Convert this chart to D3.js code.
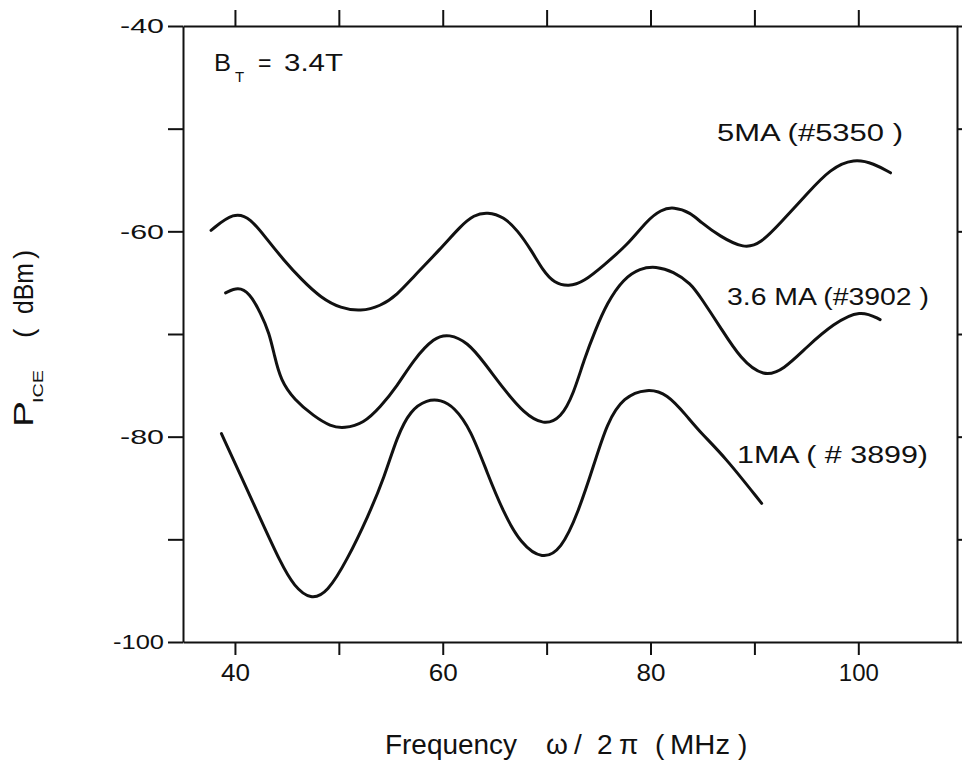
<!DOCTYPE html>
<html><head><meta charset="utf-8">
<script src="https://cdn.jsdelivr.net/npm/d3@7"></script>
<style>
body{margin:0;background:#fff}
svg{display:block}
text{font-family:"Liberation Sans",Arial,Helvetica,sans-serif;fill:#111}
</style>
</head><body>
<svg id="chart" width="962" height="770"></svg>
<script>
// ---------- data (frequency MHz, P_ICE dBm) ----------
const series5MA = [
  [37.7,-59.9],[39.9,-58.1],[41.5,-58.7],[43.1,-60.8],[44.7,-62.8],[46.4,-64.7],
  [48.3,-66.5],[50.2,-67.5],[52.1,-67.8],[54.0,-67.3],[55.6,-66.2],[57.2,-64.4],
  [59.8,-61.7],[61.7,-59.5],[63.0,-58.4],[64.3,-58.1],[65.9,-58.6],[67.2,-59.9],
  [68.5,-61.8],[69.7,-63.9],[70.7,-65.0],[72.1,-65.4],[73.6,-64.9],[75.5,-63.3],
  [77.8,-61.3],[79.7,-58.9],[81.0,-57.9],[82.2,-57.6],[83.9,-58.2],[84.8,-59.1],
  [86.7,-60.5],[89.0,-61.7],[90.6,-61.2],[92.5,-59.2],[95.1,-56.3],[97.3,-53.9],
  [99.6,-52.9],[101.5,-53.4],[103.1,-54.3]
];
const series36MA = [
  [39.1,-66.0],[40.3,-65.4],[41.4,-66.0],[42.5,-68.0],[43.3,-69.9],[43.8,-72.1],
  [44.4,-74.5],[45.7,-76.4],[47.6,-78.0],[49.2,-79.0],[50.5,-79.2],[52.4,-78.7],
  [54.0,-77.1],[55.6,-75.1],[57.2,-72.5],[59.2,-70.3],[60.6,-70.0],[62.4,-70.8],
  [64.0,-72.8],[65.9,-75.4],[67.8,-77.7],[69.7,-78.9],[71.4,-78.2],[72.6,-75.8],
  [73.6,-72.5],[74.7,-69.6],[75.8,-67.0],[77.4,-64.6],[79.0,-63.6],[80.5,-63.4],
  [82.2,-63.9],[83.9,-65.1],[84.8,-66.4],[86.7,-69.3],[88.7,-72.5],[90.9,-74.2],
  [92.8,-73.5],[95.1,-71.2],[97.6,-69.0],[100.2,-67.6],[102.1,-68.6]
];
const series1MA = [
  [38.7,-79.7],[40.6,-83.9],[42.5,-88.1],[44.4,-92.3],[45.7,-94.6],[47.3,-95.9],
  [48.9,-95.2],[50.8,-92.0],[52.8,-87.8],[54.4,-83.9],[55.6,-80.0],[56.9,-77.4],
  [58.5,-76.4],[59.8,-76.4],[61.1,-77.1],[62.7,-79.3],[64.3,-83.6],[65.9,-87.5],
  [67.5,-90.4],[69.6,-92.0],[71.4,-91.0],[73.0,-87.5],[74.6,-82.6],[75.8,-78.7],
  [77.4,-76.1],[79.7,-75.3],[81.6,-75.8],[83.5,-78.0],[84.8,-79.6],[87.1,-81.9],
  [90.7,-86.5]
];
const seriesNames = ["5MA (#5350 )", "3.6 MA (#3902 )", "1MA ( # 3899)"];

const xTicks = [40,50,60,70,80,90,100];
const xTickLabels = ["40","","60","","80","","100"];
const yTicks = [-100,-90,-80,-70,-60,-50,-40];
const yTickLabels = ["-100","","-80","","-60","","-40"];
const xDomain = [35, 109.5];
const yDomain = [-100, -40];

// ---------- drawing ----------
const svg = d3.select("#chart");
const L = 183, R = 957, T = 26, B = 642;
const x = d3.scaleLinear().domain(xDomain).range([L, R]);
const y = d3.scaleLinear().domain(yDomain).range([B, T]);

const axisStyle = g => {
  g.selectAll("path.domain").attr("stroke","#111").attr("stroke-width",2);
  g.selectAll(".tick line").attr("stroke","#111").attr("stroke-width",2);
};

// bottom axis
const gB = svg.append("g").attr("transform",`translate(0,${B})`)
  .call(d3.axisBottom(x).tickValues(xTicks).tickSize(13).tickSizeOuter(0).tickPadding(9)
    .tickFormat((d,i)=>xTickLabels[i]));
axisStyle(gB);
gB.selectAll(".tick text").attr("font-size",24).attr("font-family",null).style("fill","#111")
  .each(function(){const t=d3.select(this).text(); if(t) d3.select(this)
    .attr("textLength", t.length===3?40:29).attr("lengthAdjust","spacingAndGlyphs");});

// top axis
const gT = svg.append("g").attr("transform",`translate(0,${T})`)
  .call(d3.axisTop(x).tickValues(xTicks).tickSize(16).tickSizeOuter(0).tickFormat(""));
axisStyle(gT);

// left axis
const gL = svg.append("g").attr("transform",`translate(${L},0)`)
  .call(d3.axisLeft(y).tickValues(yTicks).tickSize(15).tickSizeOuter(0).tickPadding(4)
    .tickFormat((d,i)=>yTickLabels[i]));
axisStyle(gL);
gL.selectAll(".tick text").attr("font-size",21).attr("font-family",null).style("fill","#111")
  .each(function(){const t=d3.select(this).text(); if(t) d3.select(this)
    .attr("textLength", t.length===4?51:44).attr("lengthAdjust","spacingAndGlyphs");});

// right axis
const gR = svg.append("g").attr("transform",`translate(${R},0)`)
  .call(d3.axisRight(y).tickValues(yTicks).tickSize(12).tickSizeOuter(0).tickFormat(""));
axisStyle(gR);

// curves
const line = d3.line().x(d=>x(d[0])).y(d=>y(d[1])).curve(d3.curveBasis);
[series5MA, series36MA, series1MA].forEach(s=>{
  svg.append("path").datum(s).attr("d",line)
    .attr("fill","none").attr("stroke","#111").attr("stroke-width",3)
    .attr("stroke-linecap","round").attr("stroke-linejoin","round");
});

// curve labels
const labelPos = [[717,141,186],[727,305,202],[737,463,191]];
seriesNames.forEach((n,i)=>{
  svg.append("text").attr("x",labelPos[i][0]).attr("y",labelPos[i][1])
    .attr("font-size",23).attr("textLength",labelPos[i][2]).attr("lengthAdjust","spacingAndGlyphs")
    .text(n);
});

// B_T annotation
const bt = svg.append("text").attr("y",71).attr("font-size",23);
bt.append("tspan").attr("x",214).attr("textLength",17).attr("lengthAdjust","spacingAndGlyphs").text("B");
bt.append("tspan").attr("font-size",15).attr("dy",11).attr("x",235).text("T");
bt.append("tspan").attr("dy",-11).attr("x",258).text("=");
bt.append("tspan").attr("x",284).attr("textLength",59).attr("lengthAdjust","spacingAndGlyphs").text("3.4T");

// y axis title (rotated)
const yt = svg.append("text").attr("transform","translate(33,427) rotate(-90)").attr("font-size",28);
yt.append("tspan").attr("x",0).attr("textLength",26).attr("lengthAdjust","spacingAndGlyphs").text("P");
yt.append("tspan").attr("x",24).attr("dy",10).attr("font-size",15).attr("textLength",33).attr("lengthAdjust","spacingAndGlyphs").text("ICE");
yt.append("tspan").attr("x",89).attr("dy",-10).text("(");
yt.append("tspan").attr("x",113).attr("textLength",51).attr("lengthAdjust","spacingAndGlyphs").text("dBm");
yt.append("tspan").attr("x",168).text(")");

// x axis title
const xt = svg.append("text").attr("y",754).attr("font-size",28);
xt.append("tspan").attr("x",385).attr("textLength",132).attr("lengthAdjust","spacingAndGlyphs").text("Frequency");
xt.append("tspan").attr("x",546).text("ω");
xt.append("tspan").attr("x",574).text("/");
xt.append("tspan").attr("x",597).text("2");
xt.append("tspan").attr("x",619).text("π");
xt.append("tspan").attr("x",655).text("(");
xt.append("tspan").attr("x",670).attr("textLength",60).attr("lengthAdjust","spacingAndGlyphs").text("MHz");
xt.append("tspan").attr("x",738).text(")");
</script>
</body></html>
